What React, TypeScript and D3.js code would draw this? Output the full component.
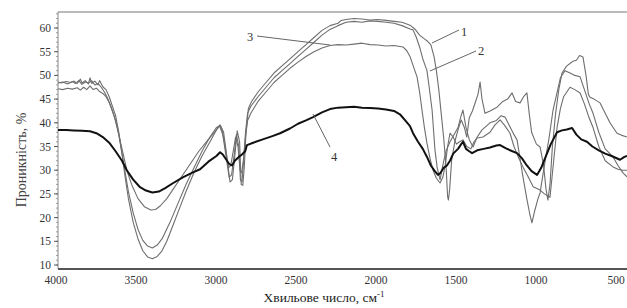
import React from "react";
import * as d3 from "d3";

// Wavenumber (cm-1) and transmittance (%) for each spectrum
const c1Wn = [4000,3980,3950,3920,3900,3880,3860,3850,3830,3810,3800,3790,3770,3750,3740,3720,3700,3680,3660,3640,3620,3600,3580,3560,3530,3500,3470,3440,3410,3380,3350,3320,3280,3240,3200,3150,3100,3050,3010,2985,2965,2945,2925,2910,2895,2880,2865,2855,2845,2835,2825,2810,2790,2750,2700,2650,2600,2550,2500,2450,2400,2350,2300,2250,2230,2200,2150,2100,2050,2000,1950,1900,1850,1800,1770,1740,1710,1690,1670,1650,1635,1620,1605,1590,1575,1565,1560,1552,1540,1520,1500,1480,1460,1445,1430,1410,1390,1375,1362,1350,1331,1300,1256,1220,1190,1162,1140,1112,1090,1069,1055,1040,1010,987,965,950,938,925,910,890,870,850,820,800,781,760,740,719,700,685,675,650,612,580,550,506,480,444];
const c1T = [48.6,48.4,48.7,48.5,48.8,48.3,49.2,48.4,48.9,48.2,49.5,48.3,48.8,48.0,48.9,47.6,47.0,45.5,43.5,41.5,38,33.5,28.5,24,19,15.5,13,11.7,11.3,11.8,13,15,18.5,22,25.5,29.5,33,36,38.5,39.5,38,33,27.5,28,33,38.3,36,27,26.8,31,38,43,44.5,46.5,48.5,50.5,52,53.5,55,56.5,58,59.5,60.5,61,61.6,61.8,62,61.9,61.7,61.8,61.6,61.4,61.2,60.6,59.8,58.5,57.7,57.2,56.5,54,51,47,42,37,31,24.5,23.7,26,32,36,38.5,40.6,39,37,41,42.5,44.5,46,48.6,45,42,42.5,43.3,44.5,45,46.3,44.5,44.2,45.5,46.3,42,38,35.5,34.9,31,26,23.7,27,35,42,47,50.5,52,52.5,53,53.2,54.2,53.9,50,46,45.4,45,44.2,42,40,37.8,37.4,37];

const c2Wn = [4000,3970,3940,3910,3880,3860,3840,3820,3800,3780,3760,3740,3720,3700,3680,3660,3640,3620,3600,3580,3560,3530,3500,3470,3440,3410,3380,3350,3300,3250,3200,3150,3100,3050,3010,2990,2970,2950,2930,2915,2900,2885,2870,2860,2850,2840,2828,2815,2795,2750,2700,2650,2600,2550,2500,2450,2400,2350,2300,2250,2200,2150,2100,2050,2000,1950,1900,1850,1800,1781,1760,1740,1720,1694,1680,1662,1644,1630,1612,1595,1575,1550,1525,1500,1485,1469,1450,1430,1406,1380,1350,1300,1260,1230,1206,1180,1150,1131,1110,1094,1070,1050,1038,1020,1000,987,960,930,906,880,860,831,800,770,737,710,680,656,620,580,531,500,470,444];
const c2T = [47.2,47.0,47.3,47.1,47.4,46.9,47.5,47.0,47.8,47.0,47.3,46.6,46.2,45.5,44.3,42.5,40.5,37.5,33.5,29.5,25.5,21,17.5,15.2,14,13.6,14.2,15.5,19,23,27,30.5,34,37,39,39.3,37.5,33,28.5,29,33,37.5,35,28,27.5,32,38,42,43.5,45.5,47.5,49.5,51,52.5,54,55.5,57,58.5,59.7,60.5,61.2,61.4,61.2,61.5,61.4,61.2,61,60.5,59.8,59.6,58,56,53.5,51,47.5,42.7,34.3,30.5,28,31,34,36,37.5,39,41,42.7,39,36.5,34.9,37,38.5,40,40.5,41.5,41.2,39.5,37.5,36.4,32,28.6,24,20.5,18.9,21.5,24,25.2,31,37,42.7,46.5,49.5,51,50.5,50,49.7,47,44,42,38,34.5,32.8,31,29.5,28.6];

const c3Wn = [4000,3970,3940,3910,3890,3870,3850,3830,3810,3790,3770,3750,3730,3710,3690,3670,3650,3630,3610,3590,3570,3540,3500,3460,3420,3390,3360,3320,3280,3230,3180,3120,3060,3010,2990,2975,2955,2935,2920,2905,2890,2875,2862,2852,2840,2828,2815,2795,2750,2700,2650,2600,2550,2500,2450,2400,2350,2300,2250,2200,2150,2100,2050,2000,1950,1900,1844,1820,1800,1780,1756,1740,1725,1710,1694,1675,1656,1635,1612,1595,1580,1565,1550,1530,1510,1490,1469,1445,1420,1400,1380,1344,1300,1270,1237,1210,1175,1150,1120,1094,1060,1030,987,960,925,905,881,860,840,800,770,737,710,680,656,620,580,531,500,470,444];
const c3T = [48.4,48.6,48.2,48.7,48.3,48.9,48.1,48.6,48.4,48.9,48.0,48.3,47.5,46.5,45.2,43.5,41.5,39,36,33,30,27,24,22.3,21.6,21.7,22.5,24,26,28.5,31,34,36.5,38.5,39.5,38.5,35,30.5,31,34,37,35,30,29.5,32.5,37,40.5,42,44.5,46.5,48.5,50,51.5,52.8,54,55,55.8,56.3,56.5,56.4,56.6,56.8,56.5,56.4,56.2,56.3,56,55.2,54,52,49.7,46.5,42.7,39,35.7,32.5,30,28.3,27.3,28.5,31,35,37.8,37,35.5,36,36.4,35,34.5,36,36.8,37,38,39.5,40.6,39.5,37.8,35,32.5,30.7,28.5,26.5,25.8,25,24.3,31,39,43,45.5,47.5,47,46.3,44,41,39,35,32,30.7,30.2,30,30];

const c4Wn = [4000,3950,3900,3850,3800,3760,3720,3680,3640,3600,3570,3530,3490,3450,3410,3370,3330,3280,3220,3160,3112,3060,3010,2987,2970,2950,2930,2912,2895,2870,2850,2830,2819,2780,2720,2660,2612,2550,2500,2450,2406,2350,2300,2250,2200,2150,2100,2050,2000,1950,1900,1863,1830,1800,1781,1750,1720,1694,1670,1645,1625,1610,1590,1569,1550,1530,1500,1480,1469,1450,1430,1412,1380,1340,1300,1260,1237,1200,1160,1131,1100,1070,1040,1006,980,950,920,881,850,820,787,760,730,694,660,620,580,540,487,460,444];
const c4T = [38.5,38.5,38.4,38.3,38.2,37.8,37,35.8,34,32,30,28,26.5,25.7,25.3,25.5,26.2,27.3,28.5,29.5,30.2,31.8,33,33.8,33.3,32.3,31.3,31,32,32.8,33.3,34,35.3,35.8,36.5,37.2,37.8,38.8,39.8,40.5,41.2,42.2,42.9,43.2,43.3,43.4,43.2,43.1,43,42.8,42.5,41.8,40.5,39.3,37.8,36,34.5,32.8,31,29.8,29,29.4,30.5,31,32,33.5,34.5,35.5,36,34.5,34,33.6,34.2,34.5,34.8,35.2,35.3,34.6,34,33.6,32.5,31,29.8,29,30.5,33,35.5,38,38.4,38.6,38.9,37.5,36.5,36,35,34.2,33.5,33,32.2,32.8,33];

const xTicks = [4000, 3500, 3000, 2500, 2000, 1500, 1000, 500];
const yTicks = [10, 15, 20, 25, 30, 35, 40, 45, 50, 55, 60];

const W = 627, H = 308;
const L = 58, R = 627, T = 12, B = 269;

export default function App() {
  const x = d3.scaleLinear().domain([4000, 500]).range([58, 618]);
  const y = d3.scaleLinear().domain([10, 60]).range([265, 28]);
  const line = d3.line<[number, number]>().x(d => x(d[0])).y(d => y(d[1])).curve(d3.curveLinear);
  const mk = (wn: number[], t: number[]) => wn.map((w, i) => [w, t[i]] as [number, number]);
  const series = [
    { d: mk(c1Wn, c1T), color: "#6e6e6e", w: 1.1 },
    { d: mk(c2Wn, c2T), color: "#6e6e6e", w: 1.1 },
    { d: mk(c3Wn, c3T), color: "#6e6e6e", w: 1.1 },
    { d: mk(c4Wn, c4T), color: "#111", w: 2 },
  ];
  const minor = d3.range(10, 64, 1);
  const font = "'Liberation Serif', 'Times New Roman', serif";
  return (
    <svg width={W} height={H} style={{ position: "absolute", left: 0, top: 0, background: "#fff" }} fontFamily={font}>
      <defs>
        <clipPath id="plot"><rect x={L} y={T} width={R - L} height={B - T} /></clipPath>
      </defs>
      <rect x={0} y={0} width={W} height={H} fill="#fff" />
      <line x1={L} x2={R} y1={T} y2={T} stroke="#777" strokeWidth={1.2} />
      <line x1={L} x2={L} y1={T} y2={B} stroke="#888" strokeWidth={1} />
      {minor.map(v => (
        <line key={"m" + v} x1={L - 2} x2={L} y1={y(v)} y2={y(v)} stroke="#888" strokeWidth={0.8} />
      ))}
      {yTicks.map(v => (
        <g key={"y" + v}>
          <line x1={L - 4} x2={L} y1={y(v)} y2={y(v)} stroke="#555" strokeWidth={1} />
          <text x={51} y={y(v) + 4} textAnchor="end" fontSize={11.5} fill="#333">{v}</text>
        </g>
      ))}
      <g clipPath="url(#plot)">
        {series.map((s, i) => (
          <path key={i} d={line(s.d) || ""} fill="none" stroke={s.color} strokeWidth={s.w} strokeLinejoin="round" />
        ))}
      </g>
      <line x1={L} x2={R} y1={B} y2={B} stroke="#555" strokeWidth={2} />
      {xTicks.map(v => (
        <text key={"x" + v} x={x(v) - 2} y={284} textAnchor="middle" fontSize={11.5} fill="#333">{v}</text>
      ))}
      {/* leader lines */}
      <line x1={257} y1={36} x2={330} y2={45} stroke="#666" strokeWidth={1} />
      <text x={247} y={41} fontSize={12.5} fill="#333">3</text>
      <line x1={459} y1={30} x2={432} y2={43} stroke="#666" strokeWidth={1} />
      <text x={461} y={36} fontSize={12.5} fill="#333">1</text>
      <line x1={476} y1={51} x2={430} y2={71} stroke="#666" strokeWidth={1} />
      <text x={478} y={55} fontSize={12.5} fill="#333">2</text>
      <line x1={313} y1={114} x2={330} y2={147} stroke="#666" strokeWidth={1} />
      <text x={331} y={161} fontSize={12.5} fill="#333">4</text>
      <text transform="translate(26,160) rotate(-90)" textAnchor="middle" fontSize={14} fill="#444">Проникність, %</text>
      <text x={324} y={302} textAnchor="middle" fontSize={13.5} fill="#222">
        Хвильове число, см<tspan dy={-5} fontSize={9}>-1</tspan>
      </text>
    </svg>
  );
}
